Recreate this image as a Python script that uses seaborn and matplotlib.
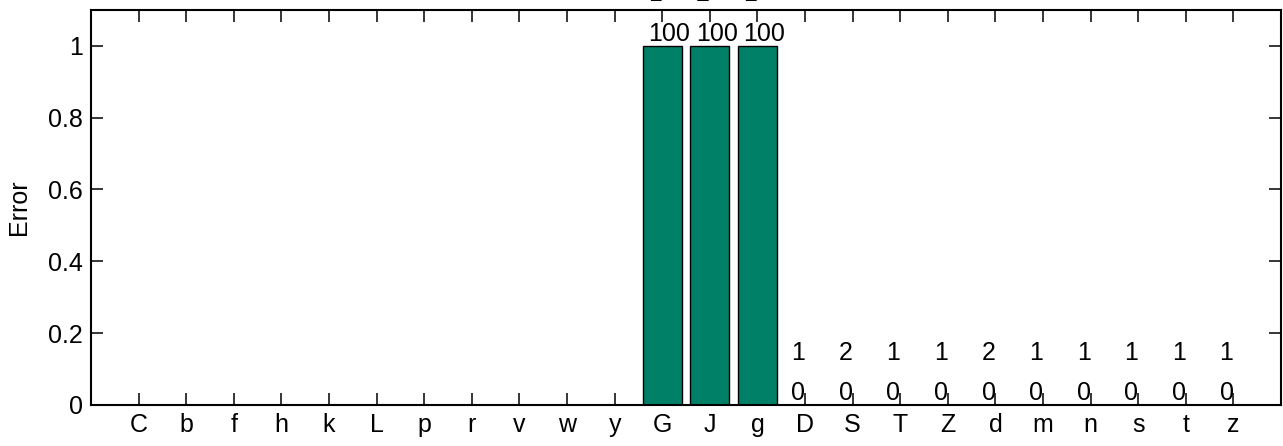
import matplotlib
matplotlib.use('Agg')
import matplotlib.pyplot as plt
import seaborn as sns
import pandas as pd

# Data
letters = ['C', 'b', 'f', 'h', 'k', 'L', 'p', 'r', 'v', 'w', 'y',
           'G', 'J', 'g', 'D', 'S', 'T', 'Z', 'd', 'm', 'n', 's', 't', 'z']
errors = [0, 0, 0, 0, 0, 0, 0, 0, 0, 0, 0,
          1, 1, 1, 0, 0, 0, 0, 0, 0, 0, 0, 0, 0]
counts = [0, 0, 0, 0, 0, 0, 0, 0, 0, 0, 0,
          1, 2, 1, 1, 2, 1, 1, 2, 1, 1, 1, 1, 1]

df = pd.DataFrame({'Letter': letters, 'Error': errors, 'Count': counts})

sns.set_style('ticks')
plt.rcParams['font.family'] = ['Liberation Sans', 'DejaVu Sans']
plt.rcParams['font.size'] = 18
plt.rcParams['text.color'] = 'black'
plt.rcParams['axes.labelcolor'] = 'black'
plt.rcParams['xtick.color'] = 'black'
plt.rcParams['ytick.color'] = 'black'
plt.rcParams['axes.edgecolor'] = 'black'

fig = plt.figure(figsize=(12.83, 4.46), dpi=100)
ax = fig.add_axes([0.071, 0.092, 0.9275, 0.886])

sns.barplot(data=df, x='Letter', y='Error', order=letters, color='#008066',
            saturation=1, width=0.82, edgecolor='black', linewidth=1, ax=ax)

# two-line labels (count over error %), left-aligned a bit left of bar centre
for patch, c, e in zip(ax.patches, counts, errors):
    if c == 0:
        continue
    xc = patch.get_x() + patch.get_width() / 2
    ax.annotate(f'{c}\n{round(e * 100)}', (xc, patch.get_height()),
                xytext=(-10, 0), textcoords='offset points',
                ha='left', va='bottom', fontsize=18, linespacing=1.82,
                color='black', annotation_clip=False)

ax.set_xlim(-1, 24)
ax.set_ylim(0, 1.1)
ax.set_yticks([0, 0.2, 0.4, 0.6, 0.8, 1])
ax.set_yticklabels(['0', '0.2', '0.4', '0.6', '0.8', '1'])
ax.set_xlabel('')
ax.set_ylabel('Error', fontsize=18, labelpad=12)

for s in ax.spines.values():
    s.set_visible(True)
    s.set_linewidth(1.5)
ax.tick_params(direction='in', length=8.5, width=1.1, top=True, right=True,
               labelsize=18)
ax.tick_params(axis='x', pad=6)
ax.tick_params(axis='y', pad=6)

fig.savefig('out.png', dpi=100)
